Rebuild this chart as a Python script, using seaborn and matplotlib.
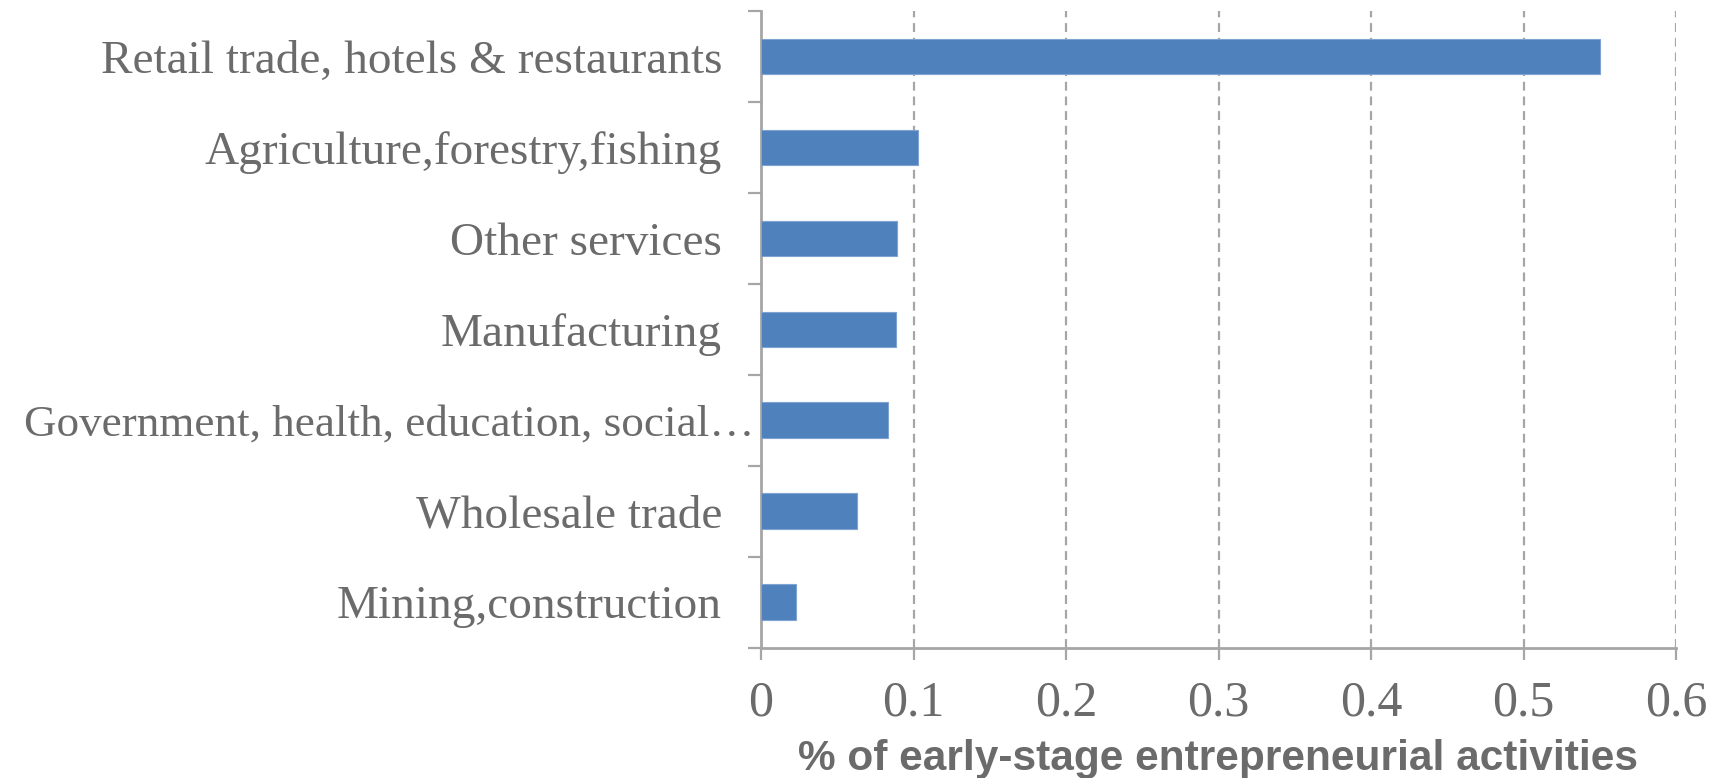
import matplotlib
matplotlib.use("Agg")
import matplotlib.pyplot as plt
import matplotlib.transforms as mtransforms
import seaborn as sns
import pandas as pd

sectors = [
    "Retail trade, hotels & restaurants",
    "Agriculture,forestry,fishing",
    "Other services",
    "Manufacturing",
    "Government, health, education, social…",
    "Wholesale trade",
    "Mining,construction",
]
shares = [0.550, 0.103, 0.089, 0.0886, 0.083, 0.063, 0.023]
x_ticks = [0, 0.1, 0.2, 0.3, 0.4, 0.5, 0.6]
x_tick_labels = ["0", "0.1", "0.2", "0.3", "0.4", "0.5", "0.6"]
x_title = "% of early-stage entrepreneurial activities"

df = pd.DataFrame({"sector": sectors, "share": shares})

sns.set_theme(style="white")
plt.rcParams["font.family"] = ["Liberation Serif", "DejaVu Serif"]

text_grey = "#6b6b6b"
axis_grey = "#a6a6a6"
bar_blue = "#4f81bd"

fig = plt.figure(figsize=(17.23, 7.78), dpi=100)
ax = fig.add_axes([761 / 1723, 1 - 647.5 / 778, (1676 - 761) / 1723, (647.5 - 11) / 778])

sns.barplot(data=df, y="sector", x="share", orient="h", color=bar_blue,
            width=0.39, edgecolor="#7fa3d3", linewidth=0.8, saturation=1,
            ax=ax, zorder=3)

ax.set_xlim(0, 0.6)
ax.set_ylim(len(sectors) - 0.5, -0.5)

# dashed vertical gridlines
ax.set_xticks(x_ticks)
ax.set_xticklabels(x_tick_labels)
ax.xaxis.grid(True, linestyle=(0, (4, 2.6)), color=axis_grey, linewidth=1.6, zorder=0)
ax.yaxis.grid(False)

for side in ["top", "right"]:
    ax.spines[side].set_visible(False)
for side in ["left", "bottom"]:
    ax.spines[side].set_color(axis_grey)
    ax.spines[side].set_linewidth(2)

ax.tick_params(axis="x", which="major", direction="out", length=8.6, width=1.6,
               color=axis_grey, labelsize=36, labelcolor=text_grey, pad=15, bottom=True)

# category ticks sit between bars; labels stay centred on bars
ax.tick_params(axis="y", which="major", length=0, labelsize=34,
               labelcolor=text_grey, pad=28)
ax.set_yticks(range(len(sectors)), minor=False)
ax.set_yticks([i - 0.5 for i in range(len(sectors) + 1)], minor=True)
ax.tick_params(axis="y", which="minor", direction="out", length=9.4, width=1.6,
               color=axis_grey, left=True)

# the long, truncated label runs closer to the axis
for lab in ax.get_yticklabels():
    if lab.get_text().startswith("Government"):
        lab.set_fontsize(32.5)
        lab.set_transform(lab.get_transform() +
                          mtransforms.ScaledTranslation(32 / 100, 0, fig.dpi_scale_trans))

ax.set_ylabel("")
ax.set_xlabel(x_title, fontsize=30.5, fontweight="bold", color=text_grey,
              family=["Liberation Sans", "DejaVu Sans"], labelpad=9)

fig.savefig("out.png", dpi=100, facecolor="white")
